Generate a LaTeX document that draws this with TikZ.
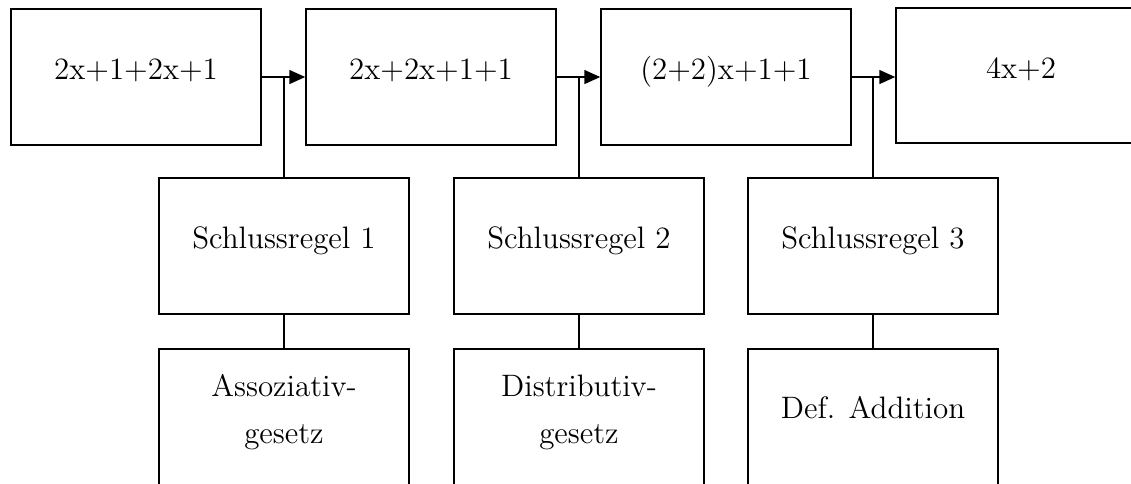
\documentclass[tikz,border=0pt]{standalone}
\usetikzlibrary{arrows.meta}
\begin{document}
\begin{tikzpicture}[x=0.4pt,y=-0.4pt,
  every node/.style={font=\fontsize{12.4}{18.8}\selectfont},
  box/.style={draw, line width=0.6pt, minimum width=100pt, minimum height=54.4pt, inner sep=0pt},
  txt/.style={inner sep=0pt, align=center},
  link/.style={line width=0.6pt},
  arr/.style={line width=0.6pt, -{Triangle[length=6.4pt,width=5.6pt]}}]
  \useasboundingbox (0,0) rectangle (1131,483);
  \clip (0,0) rectangle (1131,483);

  % upper row: transformation steps
  \node[box] (b1) at (136,77) {};
  \node[box] (b2) at (431,77) {};
  \node[box] (b3) at (726,77) {};
  \node[box, minimum height=54pt] (b4) at (1021,75.5) {};

  % middle row: inference rules
  \node[box] (s1) at (284,246) {};
  \node[box] (s2) at (579,246) {};
  \node[box] (s3) at (873,246) {};

  % lower row: justifications
  \node[box] (a1) at (284,417) {};
  \node[box] (a2) at (579,417) {};
  \node[box] (a3) at (873,417) {};

  % texts
  \node[txt, anchor=base] (t1) at ([yshift=-0.8pt]b1.center) {2x+1+2x+1};
  \node[txt, anchor=base] (t2) at ([yshift=-0.8pt]b2.center) {2x+2x+1+1};
  \node[txt, anchor=base] (t3) at ([yshift=-0.8pt]b3.center) {(2+2)x+1+1};
  \node[txt, anchor=base] (t4) at ([yshift=-1pt]b4.center) {4x+2};
  \node[txt, anchor=base] (u1) at ([yshift=-0.8pt]s1.center) {Schlussregel 1};
  \node[txt, anchor=base] (u2) at ([yshift=-0.8pt]s2.center) {Schlussregel 2};
  \node[txt, anchor=base] (u3) at ([yshift=-0.8pt]s3.center) {Schlussregel 3};
  \node[txt] (v1) at ([yshift=2pt]a1.center) {Assoziativ-\\gesetz};
  \node[txt] (v2) at ([yshift=2pt]a2.center) {Distributiv-\\gesetz};
  \node[txt, anchor=base] (v3) at ([yshift=-0.4pt]a3.center) {Def. Addition};

  % arrows between steps
  \draw[arr] (b1.east) -- (b2.west);
  \draw[arr] (b2.east) -- (b3.west);
  \draw[arr] (b3.east) -- (b3.east -| b4.west);

  % rules attached to the arrows
  \draw[link] (s1.north) -- (s1.north |- b1.east);
  \draw[link] (s2.north) -- (s2.north |- b2.east);
  \draw[link] (s3.north) -- (s3.north |- b3.east);

  % justifications attached to the rules
  \draw[link] (s1.south) -- (a1.north);
  \draw[link] (s2.south) -- (a2.north);
  \draw[link] (s3.south) -- (a3.north);
\end{tikzpicture}
\end{document}
